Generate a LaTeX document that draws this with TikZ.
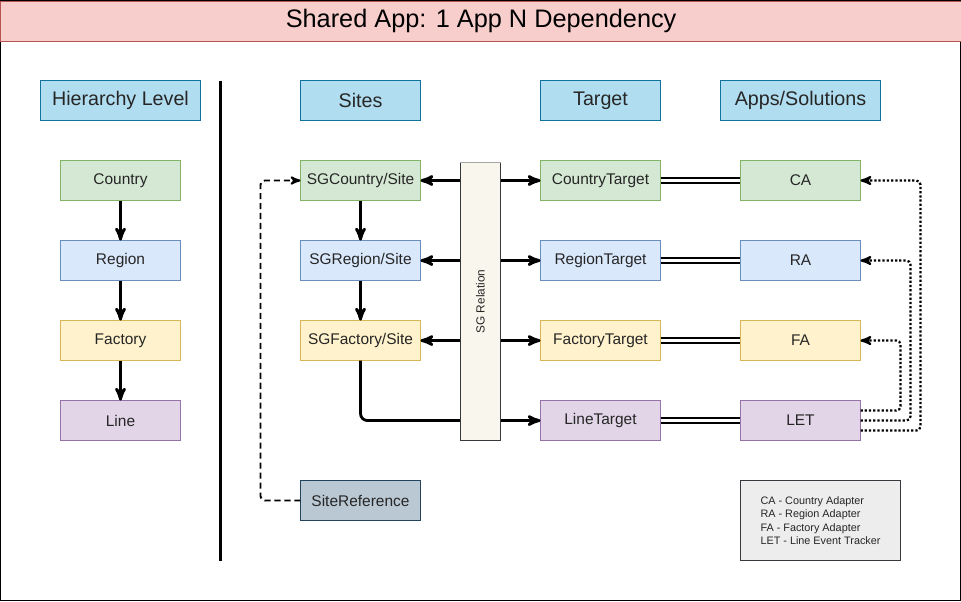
\documentclass[tikz,border=0pt]{standalone}
\usepackage{fontspec}
\setmainfont{Liberation Sans}
\usetikzlibrary{positioning, arrows}
\definecolor{titlefill}{HTML}{F8CECC}
\definecolor{titleline}{HTML}{B85450}
\definecolor{hdrfill}{HTML}{B1DDF0}
\definecolor{hdrline}{HTML}{10739E}
\definecolor{ctyfill}{HTML}{D5E8D4}
\definecolor{ctyline}{HTML}{82B366}
\definecolor{regfill}{HTML}{DAE8FC}
\definecolor{regline}{HTML}{6C8EBF}
\definecolor{facfill}{HTML}{FFF2CC}
\definecolor{facline}{HTML}{D6B656}
\definecolor{linfill}{HTML}{E1D5E7}
\definecolor{linline}{HTML}{9673A6}
\definecolor{reffill}{HTML}{BAC8D3}
\definecolor{refline}{HTML}{23445D}
\definecolor{barfill}{HTML}{F9F7ED}
\definecolor{darkline}{HTML}{36393D}
\tikzset{
  >=stealth',
  node distance=1cm,
  box/.style={draw, line width=0.7pt, minimum width=3cm, minimum height=1cm,
    inner sep=0pt, outer sep=0pt, font=\fontsize{11}{13}\selectfont, text=black!85},
  header/.style={box, fill=hdrfill, draw=hdrline, font=\fontsize{14}{16}\selectfont},
  ctybox/.style={fill=ctyfill, draw=ctyline},
  regbox/.style={fill=regfill, draw=regline},
  facbox/.style={fill=facfill, draw=facline},
  linbox/.style={fill=linfill, draw=linline},
  refbox/.style={fill=reffill, draw=refline},
  relbar/.style={draw=darkline, fill=barfill, line width=0.7pt, minimum width=1cm,
    minimum height=6.95cm, inner sep=0pt, outer sep=0pt},
  flow/.style={->, line width=2pt},
  dbl/.style={double, double distance=1.7pt, line width=1.5pt},
  dotlink/.style={->, line width=1.6pt, dash pattern=on 1.6pt off 1.4pt, rounded corners=3pt},
  dashlink/.style={->, line width=1.4pt, dash pattern=on 4.3pt off 2.8pt, rounded corners=3pt},
}
\begin{document}
\begin{tikzpicture}[x=0.025cm, y=-0.025cm]
  \useasboundingbox (-0.5,-0.5) rectangle (960.5,600.5);
  % frame and title
  \draw[line width=0.7pt] (0,0) rectangle (960,600);
  \node[draw=titleline, fill=titlefill, line width=0.7pt, minimum width=24cm,
    minimum height=1cm, anchor=north west, font=\fontsize{18}{20}\selectfont]
    (title) at (0,0) {Shared App: 1 App N Dependency};

  % column headers
  \node[header, minimum width=4cm] (hlevel) at (120,100) {Hierarchy Level};
  \node[header] (hsites) at (360,100) {Sites};
  \node[header] (htarget) at (600,100) {Target};
  \node[header, minimum width=4cm] (happs) at (800,100) {Apps/Solutions};

  % separator
  \coordinate (septop) at (220,80);
  \coordinate (sepbot) at (220,560);
  \draw[line width=2pt] (septop) -- (sepbot);

  % hierarchy
  \node[box, ctybox] (country) at (120,180) {Country};
  \node[box, regbox, below=of country] (region) {Region};
  \node[box, facbox, below=of region] (factory) {Factory};
  \node[box, linbox, below=of factory] (line) {Line};

  % sites
  \node[box, ctybox] (sgcty) at (360,180) {SGCountry/Site};
  \node[box, regbox, below=of sgcty] (sgreg) {SGRegion/Site};
  \node[box, facbox, below=of sgreg] (sgfac) {SGFactory/Site};
  \node[box, refbox] (siteref) at (360,500) {SiteReference};

  % targets
  \node[box, ctybox] (ctytgt) at (600,180) {CountryTarget};
  \node[box, regbox, below=of ctytgt] (regtgt) {RegionTarget};
  \node[box, facbox, below=of regtgt] (factgt) {FactoryTarget};
  \node[box, linbox, below=of factgt] (lintgt) {LineTarget};

  % apps
  \node[box, ctybox] (ca) at (800,180) {CA};
  \node[box, regbox, below=of ca] (ra) {RA};
  \node[box, facbox, below=of ra] (fa) {FA};
  \node[box, linbox, below=of fa] (let) {LET};

  % hierarchy arrows
  \draw[flow] (country) -- (region);
  \draw[flow] (region) -- (factory);
  \draw[flow] (factory) -- (line);
  \draw[flow] (sgcty) -- (sgreg);
  \draw[flow] (sgreg) -- (sgfac);
  \draw[flow, rounded corners=5pt] (sgfac.south) |- (lintgt.west);

  % relation bar
  \node[relbar, label={[rotate=90, font=\fontsize{8.4}{10}\selectfont, text=black!85]center:SG Relation}]
    (sgrel) at (480,301) {};
  \draw[gray!70, line width=0.7pt] (sgrel.north west) -- (sgrel.north east);
  \foreach \s/\t in {sgcty/ctytgt, sgreg/regtgt, sgfac/factgt} {
    \draw[flow] (sgrel.west |- \s) -- (\s);
    \draw[flow] (sgrel.east |- \t) -- (\t);
  }

  % target to app
  \foreach \t/\a in {ctytgt/ca, regtgt/ra, factgt/fa, lintgt/let}
    \draw[dbl] (\t) -- (\a);

  % LET adapters
  \draw[dotlink] ([yshift=0.25cm]let.east) -| ([xshift=1cm]fa.east) -- (fa.east);
  \draw[dotlink] (let.east) -| ([xshift=1.25cm]ra.east) -- (ra.east);
  \draw[dotlink] ([yshift=-0.25cm]let.east) -| ([xshift=1.5cm]ca.east) -- (ca.east);

  % site reference
  \draw[dashlink] (siteref.west) -- ++(-40,0) |- (sgcty.west);

  % legend
  \node[draw=darkline, fill=black!7, line width=0.7pt, minimum width=4cm, minimum height=2cm,
    align=left, font=\fontsize{7.7}{9.5}\selectfont, text=black!85] (legend) at (820,520)
    {CA - Country Adapter\\RA - Region Adapter\\FA - Factory Adapter\\LET - Line Event Tracker};
\end{tikzpicture}
\end{document}
